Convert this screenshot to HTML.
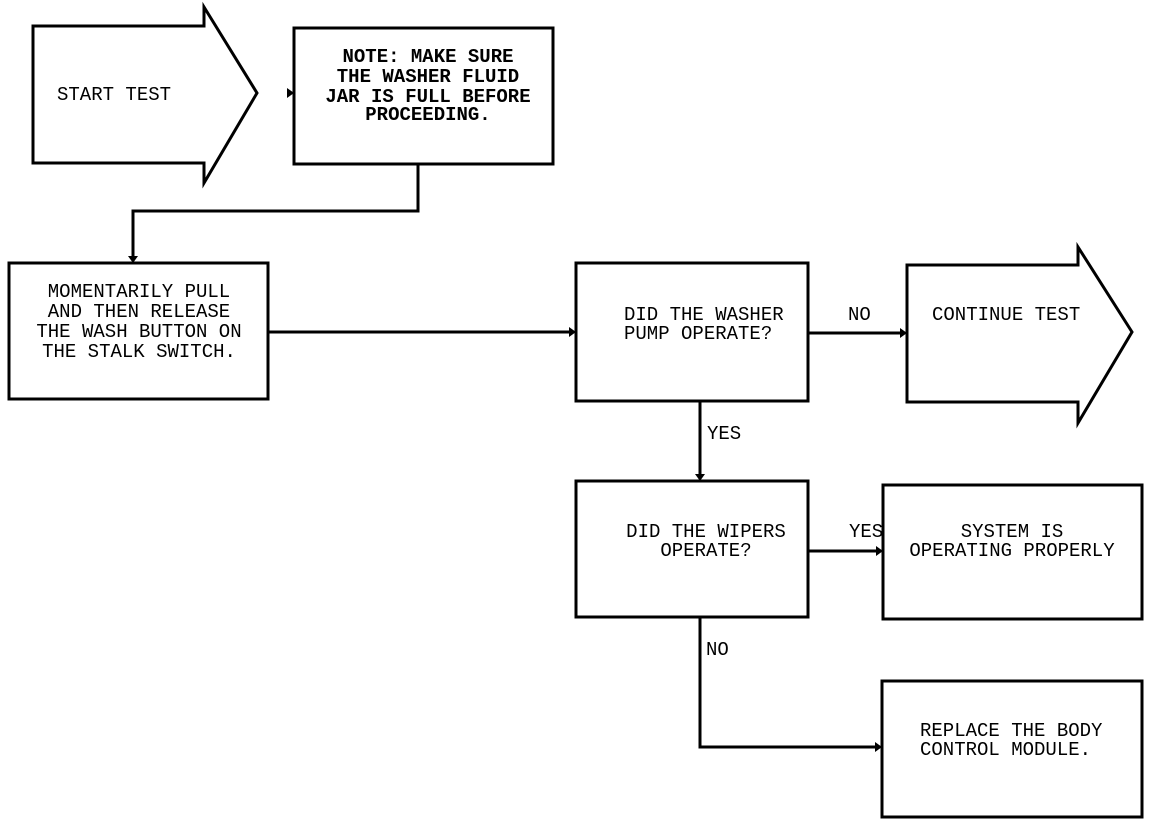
<!DOCTYPE html>
<html><head><meta charset="utf-8"><style>
html,body{margin:0;padding:0;background:#fff;}
svg{display:block;}
text{font-family:"Liberation Mono",monospace;font-size:19px;fill:#000;}
</style></head><body>
<svg width="1152" height="824" viewBox="0 0 1152 824" xmlns="http://www.w3.org/2000/svg">
<g fill="none" stroke="#000" stroke-width="3">
<polygon points="33,26 204,26 204,7 257,93 204,183 204,163 33,163"/>
<rect x="294" y="28" width="259" height="136"/>
<polyline points="418,164 418,211 133,211 133,258"/>
<rect x="9" y="263" width="259" height="136"/>
<line x1="268" y1="332" x2="571" y2="332"/>
<rect x="576" y="263" width="232" height="138"/>
<line x1="808" y1="333" x2="902" y2="333"/>
<polygon points="907,265 1078,265 1078,247 1132,332 1078,423 1078,402 907,402"/>
<line x1="700" y1="401" x2="700" y2="476"/>
<rect x="576" y="481" width="232" height="136"/>
<line x1="808" y1="551" x2="878" y2="551"/>
<rect x="883" y="485" width="259" height="134"/>
<polyline points="700,617 700,747 877,747"/>
<rect x="882" y="681" width="260" height="136"/>
</g>
<g fill="#000">
<polygon points="288,93 294,93 288,89"/><polygon points="287,88 294,93 287,98"/>
<polygon points="128,256 138,256 133,263"/>
<polygon points="569,327 576,332 569,337"/>
<polygon points="900,328 907,333 900,338"/>
<polygon points="695,474 705,474 700,481"/>
<polygon points="876,546 883,551 876,556"/>
<polygon points="875,742 882,747 875,752"/>
</g>
<text x="57" y="100">START TEST</text>
<g text-anchor="middle" style="font-weight:bold">
<text x="428" y="62">NOTE: MAKE SURE</text>
<text x="428" y="82">THE WASHER FLUID</text>
<text x="428" y="102">JAR IS FULL BEFORE</text>
<text x="428" y="120">PROCEEDING.</text>
</g>
<g text-anchor="middle">
<text x="139" y="297">MOMENTARILY PULL</text>
<text x="139" y="317">AND THEN RELEASE</text>
<text x="139" y="337">THE WASH BUTTON ON</text>
<text x="139" y="357">THE STALK SWITCH.</text>
</g>
<text x="624" y="320">DID THE WASHER</text>
<text x="624" y="339">PUMP OPERATE?</text>
<text x="848" y="320">NO</text>
<text x="932" y="320">CONTINUE TEST</text>
<text x="707" y="439">YES</text>
<text x="706" y="537" text-anchor="middle">DID THE WIPERS</text>
<text x="706" y="556" text-anchor="middle">OPERATE?</text>
<text x="849" y="537">YES</text>
<text x="1012" y="537" text-anchor="middle">SYSTEM IS</text>
<text x="1012" y="556" text-anchor="middle">OPERATING PROPERLY</text>
<text x="706" y="655">NO</text>
<text x="920" y="736">REPLACE THE BODY</text>
<text x="920" y="755">CONTROL MODULE.</text>
</svg>
</body></html>
